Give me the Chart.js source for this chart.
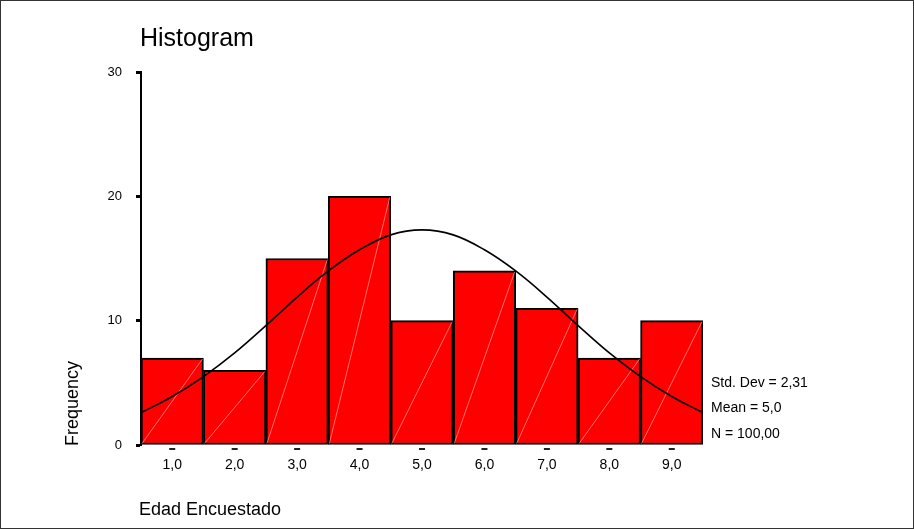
<!DOCTYPE html>
<html>
<head>
<meta charset="utf-8">
<script src="https://cdn.jsdelivr.net/npm/chart.js@4"></script>
<style>
  body { margin: 0; background: #fff; }
  canvas { display: block; }
</style>
</head>
<body>
<canvas id="histograma" width="914" height="529"></canvas>
<script>
const FONT = "'Liberation Sans', Arial, sans-serif";

// bins (class midpoints) and frequencies
const binCenters = [1, 2, 3, 4, 5, 6, 7, 8, 9];
const frequencies = [7, 6, 15, 20, 10, 14, 11, 7, 10];

// normal curve, every half unit
const curveX = [0.5, 1, 1.5, 2, 2.5, 3, 3.5, 4, 4.5, 5, 5.5, 6, 6.5, 7, 7.5, 8, 8.5, 9, 9.5];
const curveY = [2.6, 3.9, 5.5, 7.4, 9.6, 11.9, 14.0, 15.7, 16.9, 17.3, 16.9, 15.7, 14.0, 11.9, 9.6, 7.4, 5.5, 3.9, 2.6];

const yTicks = [0, 10, 20, 30];
const statLines = ["Std. Dev = 2,31", "Mean = 5,0", "N = 100,00"];

function formatComma(value){
  return value.toFixed(1).replace('.', ',');
}

// white background, frame, texts, seams and tick dashes
const decorations = {
  id: 'decorations',
  beforeDraw(chart){
    const ctx = chart.ctx;
    ctx.save();
    ctx.fillStyle = '#fff';
    ctx.fillRect(0, 0, chart.width, chart.height);
    ctx.restore();
  },
  beforeDatasetDraw(chart, args){
    // faint diagonal seams inside the bars, drawn just after the bars
    if (args.index !== 0) return;
    const ctx = chart.ctx;
    const meta = chart.getDatasetMeta(1);
    ctx.save();
    ctx.strokeStyle = 'rgba(255,175,175,0.9)';
    ctx.lineWidth = 0.7;
    meta.data.forEach(bar => {
      const left = bar.x - bar.width / 2;
      const right = bar.x + bar.width / 2;
      ctx.beginPath();
      ctx.moveTo(left + 1, bar.base - 1);
      ctx.lineTo(right - 1, bar.y + 1);
      ctx.stroke();
    });
    ctx.restore();
  },
  afterDraw(chart){
    const ctx = chart.ctx;
    const x = chart.scales.x;
    const y = chart.scales.y;
    ctx.save();
    ctx.fillStyle = '#000';
    ctx.textBaseline = 'middle';

    ctx.font = '25px ' + FONT;
    ctx.textAlign = 'left';
    ctx.fillText('Histogram', 140, 39);

    ctx.font = '18px ' + FONT;
    ctx.fillText('Edad Encuestado', 139, 510);

    ctx.save();
    ctx.translate(73, 446);
    ctx.rotate(-Math.PI / 2);
    ctx.fillText('Frequency', 0, 0);
    ctx.restore();

    ctx.font = '14px ' + FONT;
    statLines.forEach((line, i) => {
      ctx.fillText(line, x.right + 8, y.getPixelForValue(0) - 62 + i * 25.5);
    });

    // small dashes under the x axis
    ctx.fillStyle = '#222';
    binCenters.forEach(v => {
      const px = x.getPixelForValue(v);
      ctx.fillRect(px - 3, y.bottom + 3, 6, 2);
    });

    ctx.strokeStyle = '#333';
    ctx.lineWidth = 1;
    ctx.strokeRect(0.5, 0.5, chart.width - 1, chart.height - 1);
    ctx.restore();
  }
};

function createChart(){
  const data = {
    datasets: [
      {
        type: 'line',
        data: curveX.map((v, i) => ({x: v, y: curveY[i]})),
        borderColor: '#000',
        borderWidth: 1.6,
        pointRadius: 0,
        tension: 0.4,
        fill: false,
        order: 0
      },
      {
        type: 'bar',
        data: binCenters.map((v, i) => ({x: v, y: frequencies[i]})),
        backgroundColor: '#ff0000',
        borderColor: '#000',
        borderWidth: 2,
        borderSkipped: false,
        barPercentage: 1,
        categoryPercentage: 1,
        order: 1
      }
    ]
  };

  const config = {
    data: data,
    options: {
      responsive: false,
      animation: false,
      layout: { padding: { top: 72, right: 211, left: 0, bottom: 0 } },
      plugins: {
        legend: { display: false },
        title: { display: false },
        tooltip: { enabled: false }
      },
      scales: {
        x: {
          type: 'linear',
          offset: false,
          min: 0.5,
          max: 9.5,
          afterBuildTicks: scale => { scale.ticks = binCenters.map(v => ({value: v})); },
          afterFit: scale => { scale.height = 84; },
          grid: { display: false, drawTicks: false },
          border: { display: false },
          ticks: {
            padding: 12,
            color: '#000',
            font: { family: FONT, size: 14 },
            callback: v => formatComma(v)
          }
        },
        y: {
          min: 0,
          max: 30,
          afterBuildTicks: scale => { scale.ticks = yTicks.map(v => ({value: v})); },
          afterFit: scale => { scale.width = 141; },
          grid: {
            drawOnChartArea: false,
            drawTicks: true,
            tickLength: 5,
            tickWidth: 3,
            tickColor: '#000'
          },
          border: { display: true, color: '#000', width: 2 },
          ticks: {
            padding: 14,
            color: '#000',
            font: { family: FONT, size: 13 }
          }
        }
      }
    },
    plugins: [decorations]
  };

  return new Chart(document.getElementById('histograma'), config);
}

const myChart = createChart();
</script>
</body>
</html>
